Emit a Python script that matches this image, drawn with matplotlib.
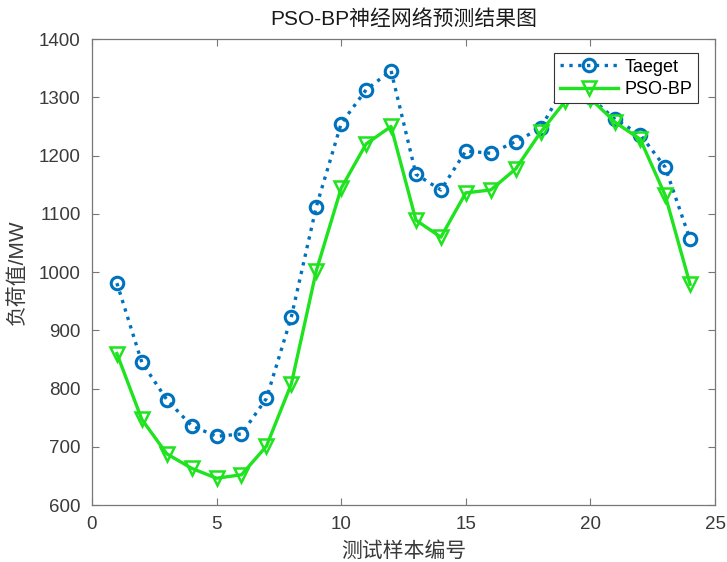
import matplotlib
matplotlib.use("Agg")
import matplotlib.pyplot as plt

plt.rcParams['font.family'] = ['Liberation Sans', 'Noto Sans CJK SC', 'DejaVu Sans']

# 测试样本编号
samples = list(range(1, 25))

# 真实值 (Taeget)
target = [981, 845, 781, 736, 718, 722, 783, 923, 1112, 1255, 1313, 1346,
          1168, 1141, 1208, 1204, 1224, 1247, 1322, 1300, 1262, 1236, 1180, 1056]

# PSO-BP 预测值
pso_bp = [860, 747, 688, 663, 646, 652, 701, 808, 1002, 1144, 1220, 1250,
          1089, 1060, 1136, 1141, 1177, 1240, 1294, 1298, 1257, 1228, 1132, 979]

fig = plt.figure(figsize=(7.27, 5.62), dpi=100)
ax = fig.add_axes([0.1265, 0.1014, 0.857, 0.829])

ax.plot(samples, target, linestyle=':', color='#0072BD', linewidth=2.4,
        marker='o', markersize=9, markerfacecolor='none', markeredgewidth=2.2,
        label='Taeget')
ax.plot(samples, pso_bp, linestyle='-', color='#1EE31E', linewidth=2.4,
        marker='v', markersize=10, markerfacecolor='none', markeredgewidth=1.8,
        label='PSO-BP')

ax.set_xlim(0, 25)
ax.set_ylim(600, 1400)
ax.set_xticks([0, 5, 10, 15, 20, 25])
ax.set_yticks(range(600, 1401, 100))
ax.tick_params(direction='in', top=True, right=True, labelsize=13.5,
               labelcolor='#3a3a3a', color='#777777', length=5, width=0.8,
               pad=8)
for s in ax.spines.values():
    s.set_color('#777777')
    s.set_linewidth(0.9)

ax.set_title('PSO-BP神经网络预测结果图', fontsize=15, color='#1a1a1a', pad=10)
ax.set_xlabel('测试样本编号', fontsize=15, color='#3a3a3a', labelpad=6)
ax.set_ylabel('负荷值/MW', fontsize=15, color='#3a3a3a', labelpad=9)

leg = ax.legend(loc='upper right', bbox_to_anchor=(0.973, 0.97), fontsize=13,
                fancybox=False, edgecolor='#333333', framealpha=1,
                handlelength=3.2, handletextpad=0.4, borderpad=0.3,
                labelspacing=0.3, borderaxespad=0)
leg.get_frame().set_linewidth(0.8)

fig.savefig('out.png', dpi=100)
